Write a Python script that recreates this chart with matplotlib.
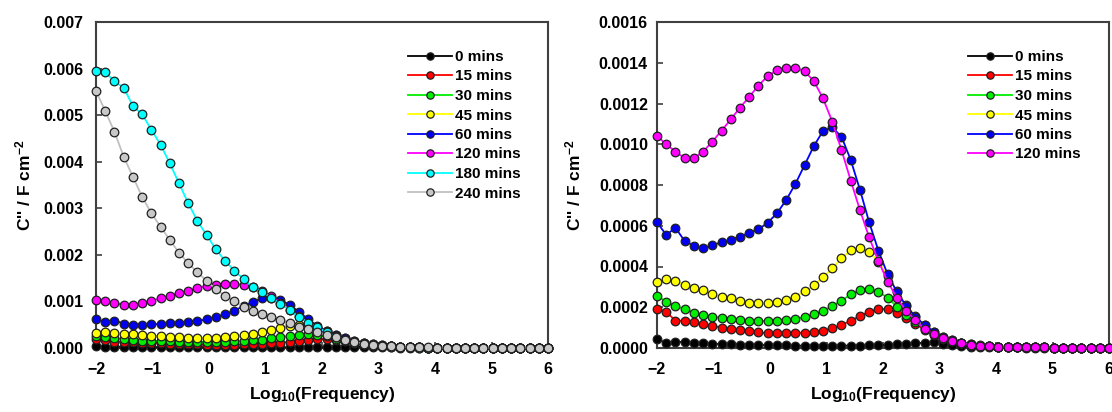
import numpy as np
import matplotlib
matplotlib.use("Agg")
import matplotlib.pyplot as plt

plt.rcParams['font.family'] = ['Liberation Sans', 'DejaVu Sans']
plt.rcParams['font.weight'] = 'bold'
plt.rcParams['mathtext.fontset'] = 'custom'
plt.rcParams['mathtext.rm'] = 'Liberation Sans:bold'
plt.rcParams['mathtext.bf'] = 'Liberation Sans:bold'
plt.rcParams['mathtext.it'] = 'Liberation Sans:bold'
plt.rcParams['mathtext.default'] = 'bf'

# log10(frequency / Hz) of the 50 measurement points
log_freq = np.linspace(-2, 6, 50)

labels = ["0 mins", "15 mins", "30 mins", "45 mins", "60 mins",
          "120 mins", "180 mins", "240 mins"]

# C'' values in units of 1e-3 F cm^-2
c0 = [0.043, 0.026, 0.028, 0.031, 0.023, 0.023, 0.020, 0.020, 0.018, 0.017,
      0.016, 0.015, 0.014, 0.014, 0.013, 0.012, 0.011, 0.011, 0.011, 0.011,
      0.011, 0.012, 0.012, 0.013, 0.014, 0.016, 0.018, 0.020, 0.023, 0.026,
      0.028, 0.020, 0.013, 0.009, 0.006, 0.005, 0.004, 0.0035, 0.003, 0.0027,
      0.0024, 0.0022, 0.002, 0.0018, 0.0017, 0.0016, 0.0015, 0.0014, 0.0013, 0.0012]
c15 = [0.191, 0.178, 0.134, 0.134, 0.126, 0.116, 0.109, 0.100, 0.093, 0.088,
       0.082, 0.077, 0.072, 0.072, 0.072, 0.074, 0.076, 0.077, 0.085, 0.097,
       0.113, 0.134, 0.157, 0.178, 0.191, 0.191, 0.174, 0.149, 0.120, 0.090,
       0.065, 0.046, 0.033, 0.023, 0.016, 0.011, 0.008, 0.006, 0.005, 0.004,
       0.0035, 0.003, 0.0026, 0.0023, 0.002, 0.0018, 0.0016, 0.0015, 0.0014, 0.0013]
c30 = [0.255, 0.228, 0.208, 0.190, 0.174, 0.160, 0.154, 0.149, 0.142, 0.137,
       0.134, 0.133, 0.133, 0.134, 0.137, 0.142, 0.152, 0.165, 0.182, 0.206,
       0.232, 0.263, 0.285, 0.290, 0.276, 0.247, 0.203, 0.162, 0.129, 0.097,
       0.070, 0.050, 0.035, 0.024, 0.017, 0.012, 0.009, 0.007, 0.0055, 0.0045,
       0.0038, 0.0032, 0.0028, 0.0024, 0.0021, 0.0019, 0.0017, 0.0016, 0.0015, 0.0014]
c45 = [0.326, 0.339, 0.330, 0.309, 0.296, 0.285, 0.265, 0.252, 0.244, 0.231,
       0.222, 0.219, 0.219, 0.224, 0.236, 0.252, 0.278, 0.308, 0.347, 0.391,
       0.440, 0.479, 0.491, 0.473, 0.424, 0.355, 0.280, 0.212, 0.157, 0.112,
       0.078, 0.054, 0.037, 0.026, 0.018, 0.013, 0.009, 0.007, 0.0055, 0.0045,
       0.0038, 0.0032, 0.0028, 0.0024, 0.0021, 0.0019, 0.0017, 0.0016, 0.0015, 0.0014]
c60 = [0.617, 0.555, 0.590, 0.525, 0.502, 0.489, 0.505, 0.519, 0.532, 0.546,
       0.566, 0.582, 0.615, 0.661, 0.726, 0.805, 0.898, 0.991, 1.065, 1.083,
       1.037, 0.923, 0.777, 0.617, 0.478, 0.362, 0.275, 0.208, 0.154, 0.113,
       0.080, 0.055, 0.038, 0.026, 0.018, 0.012, 0.009, 0.007, 0.0055, 0.0045,
       0.0038, 0.0032, 0.0028, 0.0024, 0.0021, 0.0019, 0.0017, 0.0016, 0.0015, 0.0014]
c120 = [1.040, 1.000, 0.964, 0.931, 0.931, 0.964, 1.013, 1.067, 1.122, 1.180,
        1.233, 1.288, 1.335, 1.363, 1.376, 1.376, 1.358, 1.310, 1.225, 1.111,
        0.972, 0.822, 0.677, 0.543, 0.427, 0.326, 0.247, 0.182, 0.137, 0.093,
        0.069, 0.049, 0.036, 0.024, 0.016, 0.011, 0.008, 0.006, 0.005, 0.004,
        0.0035, 0.003, 0.0026, 0.0023, 0.002, 0.0018, 0.0016, 0.0015, 0.0014, 0.0013]
c180 = [5.948, 5.920, 5.727, 5.590, 5.197, 5.018, 4.688, 4.366, 3.966, 3.536,
        3.107, 2.727, 2.419, 2.119, 1.868, 1.660, 1.482, 1.303, 1.209, 1.080,
        0.945, 0.816, 0.659, 0.543, 0.444, 0.337, 0.243, 0.170, 0.115, 0.080,
        0.055, 0.038, 0.026, 0.018, 0.012, 0.009, 0.007, 0.0055, 0.0045, 0.0038,
        0.0032, 0.0028, 0.0024, 0.0021, 0.0019, 0.0017, 0.0016, 0.0015, 0.0014, 0.0013]
c240 = [5.519, 5.089, 4.645, 4.108, 3.678, 3.249, 2.892, 2.605, 2.319, 2.046,
        1.819, 1.626, 1.439, 1.260, 1.117, 1.009, 0.887, 0.795, 0.724, 0.672,
        0.601, 0.543, 0.457, 0.402, 0.344, 0.279, 0.230, 0.175, 0.130, 0.095,
        0.068, 0.050, 0.037, 0.027, 0.020, 0.015, 0.011, 0.008, 0.006, 0.005,
        0.004, 0.0035, 0.003, 0.0026, 0.0023, 0.002, 0.0018, 0.0016, 0.0015, 0.0014]

series = [c0, c15, c30, c45, c60, c120, c180, c240]
UNIT = 1e-3

line_colors = ["#000000", "#ff0000", "#00ee00", "#ffff00", "#0000ff",
               "#ff00ff", "#00ffff", "#c0c0c0"]
face_colors = ["#000000", "#ff0000", "#00ee00", "#ffff00", "#0000ee",
               "#ff00ff", "#00ffff", "#c8c8c8"]

left_ticks = [0.000, 0.001, 0.002, 0.003, 0.004, 0.005, 0.006, 0.007]
right_ticks = [0.0000, 0.0002, 0.0004, 0.0006, 0.0008, 0.0010, 0.0012, 0.0014, 0.0016]
x_ticks = [-2, -1, 0, 1, 2, 3, 4, 5, 6]

W, H = 1112, 412
fig = plt.figure(figsize=(W / 100, H / 100), dpi=100)
axL = fig.add_axes([96 / W, 1 - 348 / H, 452 / W, 326 / H])
axR = fig.add_axes([657 / W, 1 - 348 / H, 452 / W, 326 / H])


def draw(ax, n, yticks, fmt, ypad, legend_xy):
    for i in range(n):
        y = np.array(series[i]) * UNIT
        ax.plot(log_freq, y, color=line_colors[i], lw=1.3, marker='o',
                markersize=6.2, markerfacecolor=face_colors[i],
                markeredgecolor='#202020', markeredgewidth=0.9,
                label=labels[i], clip_on=False, zorder=3 + i)
    ax.set_xlim(-2, 6)
    ax.set_ylim(yticks[0], yticks[-1])
    ax.set_xticks(x_ticks)
    ax.set_yticks(yticks)
    ax.set_yticklabels([fmt.format(v) for v in yticks])
    ax.tick_params(direction='in', length=4, width=1.2, color='#404040',
                   labelsize=11.5)
    ax.tick_params(axis='y', pad=ypad)
    ax.tick_params(axis='x', pad=10)
    for s in ax.spines.values():
        s.set_color('#404040')
        s.set_linewidth(1.5)
    ax.set_xlabel(r"Log$_{10}$(Frequency)", fontsize=12.5, fontweight='bold',
                  labelpad=6)
    ax.set_ylabel(r"C'' / F cm$^{-2}$", fontsize=12.5, fontweight='bold')
    leg = ax.legend(loc='upper left', bbox_to_anchor=legend_xy,
                    bbox_transform=fig.transFigure, frameon=False,
                    fontsize=11, handlelength=2.9, handletextpad=0.2,
                    labelspacing=0.36, borderpad=0, borderaxespad=0,
                    markerscale=0.85)
    for t in leg.get_texts():
        t.set_fontweight('bold')


draw(axL, 8, left_ticks, "{:.3f}", 9, (408 / W, 1 - 50 / H))
draw(axR, 6, right_ticks, "{:.4f}", 6.5, (968 / W, 1 - 50 / H))
axL.yaxis.set_label_coords(-0.138, 0.5)
axR.yaxis.set_label_coords(-0.163, 0.5)

fig.savefig("out.png", dpi=100)
